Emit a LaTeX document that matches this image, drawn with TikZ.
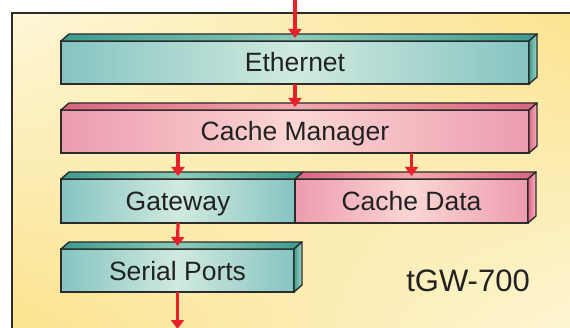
\documentclass[tikz,border=0pt]{standalone}
\usepackage{fontspec}
\setmainfont{Liberation Sans}
\usepackage{tikz}
\usetikzlibrary{calc,positioning,arrows.meta,shadings}
\usepackage{xcolor}
\definecolor{framegray}{HTML}{2B2B2B}
\definecolor{textgray}{HTML}{222222}
\definecolor{bgyellow}{HTML}{FBE28C}
\definecolor{bgcream}{HTML}{FDF7D8}
\definecolor{tealfront}{HTML}{86C4C1}
\definecolor{teallight}{HTML}{D0EADF}
\definecolor{tealtopdk}{HTML}{3D9C8E}
\definecolor{tealtoplt}{HTML}{8CCAB8}
\definecolor{tealside}{HTML}{A6D6CC}
\definecolor{pinkfront}{HTML}{EC9CAE}
\definecolor{pinklight}{HTML}{FBD6D4}
\definecolor{pinktopdk}{HTML}{DA6580}
\definecolor{pinktoplt}{HTML}{F2A6AC}
\definecolor{pinkside}{HTML}{F4B8C0}
\definecolor{arrowred}{HTML}{E8202A}

\begin{document}
\begin{tikzpicture}[x=1pt,y=1pt]
        \tikzstyle{layer}=[draw=framegray, line width=1.4pt, inner sep=0pt, outer sep=0pt, text=textgray, text height=19pt, text depth=0pt, font=\fontsize{26.5}{30}\selectfont]
        \tikzstyle{tealbox}=[layer, left color=tealfront, right color=tealfront, middle color=teallight]
        \tikzstyle{pinkbox}=[layer, left color=pinkfront, right color=pinkfront, middle color=pinklight]
        \tikzstyle{face}=[draw=framegray, line width=1.4pt, line join=round]
        \tikzstyle{flow}=[draw=arrowred, line width=3.2pt, -{Triangle[width=13pt,length=9pt]}]

        \useasboundingbox (0,0) rectangle (570,327);

        % Background panel
        \shade[upper left=bgcream, upper right=bgyellow, lower left=bgyellow, lower right=bgcream] (12,-10) rectangle (600,314);
        \draw[framegray, line width=2.5pt] (600,314) -- (12,314) -- (12,-10);

        % Front faces
        \node[tealbox, minimum width=468pt, minimum height=43pt] (eth) at (295,264.5) {Ethernet};
        \node[pinkbox, minimum width=468pt, minimum height=43pt] (cmgr) at (295,195.5) {Cache Manager};
        \node[tealbox, minimum width=234pt, minimum height=44pt] (gw) at (178,126) {Gateway};
        \node[pinkbox, minimum width=233pt, minimum height=44pt, right=0pt of gw] (cdata) {Cache Data};
        \node[tealbox, minimum width=233pt, minimum height=43pt] (sport) at (177.5,56.5) {Serial Ports};

        % Top faces
        \foreach \n/\a/\b in {eth/tealtopdk/tealtoplt, cmgr/pinktopdk/pinktoplt, gw/tealtopdk/tealtoplt, cdata/pinktopdk/pinktoplt, sport/tealtopdk/tealtoplt}
            \shade[face, left color=\a, right color=\a, middle color=\b]
            (\n.north west) -- ++(8,7) -- ($(\n.north east)+(8,7)$) -- (\n.north east) -- cycle;

        % Side faces
        \foreach \n/\a/\b in {eth/tealtopdk/tealside, cmgr/pinktopdk/pinkside, cdata/pinktopdk/pinkside, sport/tealtopdk/tealside}
            \shade[face, left color=\a, right color=\b]
            (\n.north east) -- ++(8,7) -- ($(\n.south east)+(8,7)$) -- (\n.south east) -- cycle;

        % Data flow
        \coordinate (in) at (295,334);
        \coordinate (out) at ($(sport.south)+(0,-37)$);
        \draw[flow] (in) -- ($(eth.north)+(0,3)$);
        \draw[flow] (eth.south) -- ($(cmgr.north)+(0,3)$);
        \draw[flow] (cmgr.south -| gw.north) -- ($(gw.north)+(0,3)$);
        \draw[flow] (cmgr.south -| cdata.north) -- ($(cdata.north)+(0,3)$);
        \draw[flow] (gw.south) -- ($(sport.north)+(0,3)$);
        \draw[flow] (sport.south) -- (out);

        % Model name
        \node[text=textgray, font=\fontsize{31}{36}\selectfont, anchor=base] (model) at (468,36) {tGW-700};
\end{tikzpicture}
\end{document}
